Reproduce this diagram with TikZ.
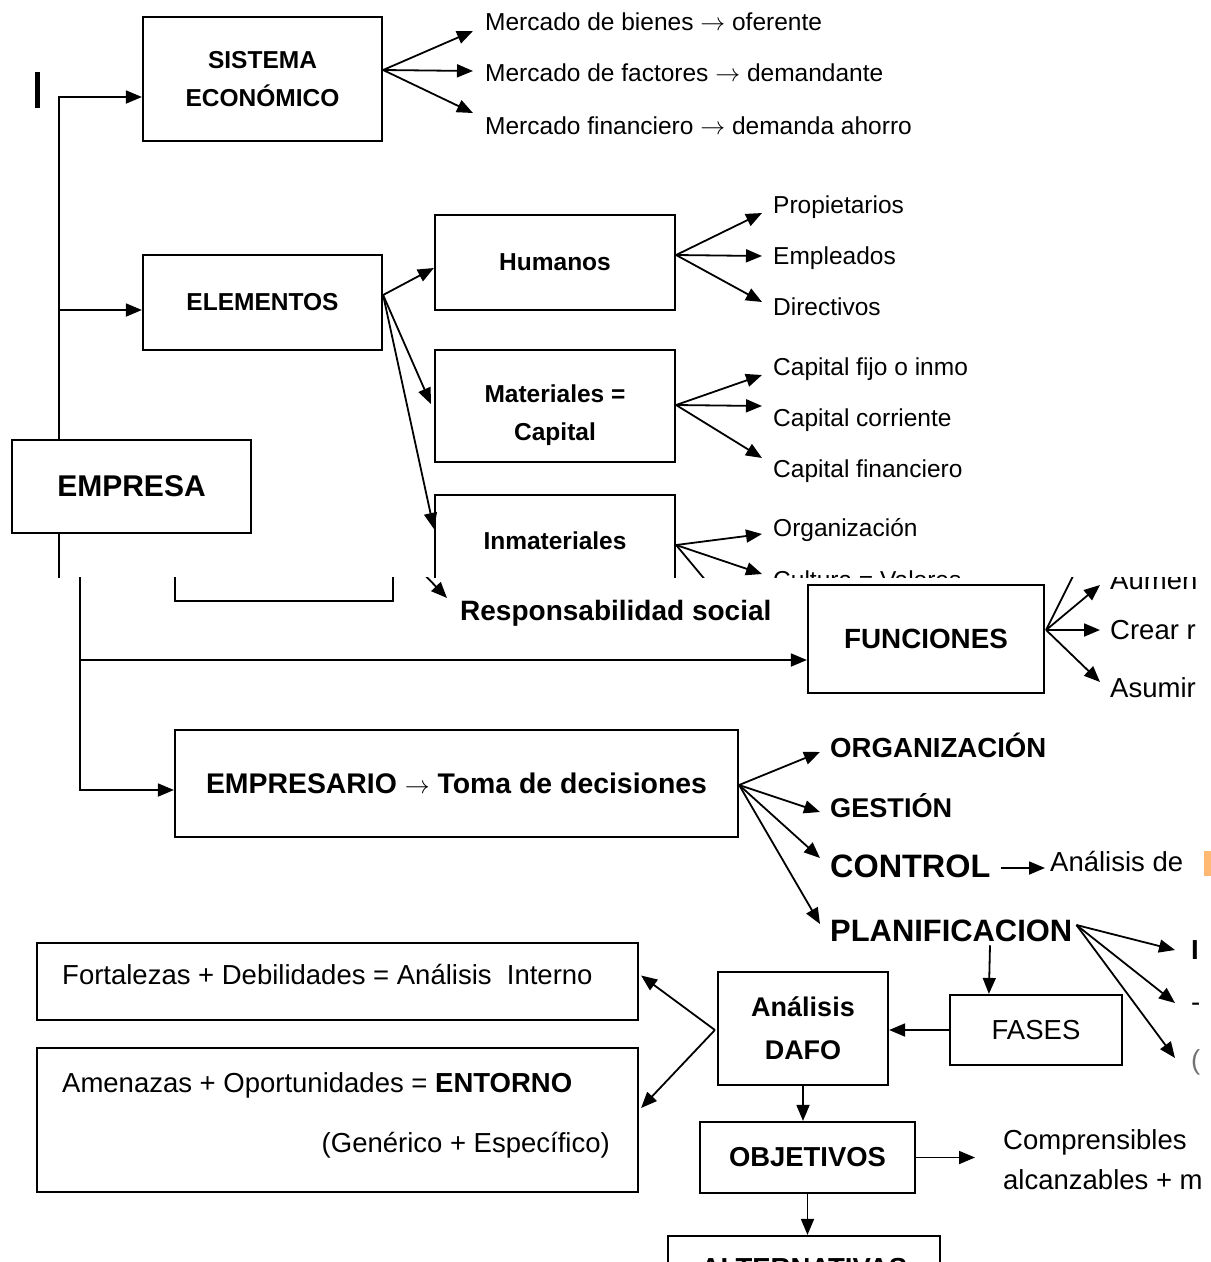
\documentclass[tikz,border=0pt]{standalone}
\usepackage{fontspec}
\setmainfont{Liberation Sans}
\usetikzlibrary{arrows.meta,calc}
\newcommand{\fsz}[2]{\fontsize{#1pt}{#2pt}\selectfont}
\newcommand{\rar}{\ensuremath{\rightarrow}}
\begin{document}
\begin{tikzpicture}[x=1pt,y=-1pt,
  box/.style={draw, line width=2.2pt, inner sep=0pt, align=center},
  lbl/.style={inner sep=0pt, anchor=west, text depth=0pt},
  sm/.style={font=\fsz{24.5}{29}, text height=17.5pt},
  md/.style={font=\fsz{27.5}{32}, text height=19.7pt},
  bf/.style={font=\fsz{24.5}{38}\bfseries},
  bm/.style={font=\fsz{27.5}{32}\bfseries},
  arr/.style={-{Triangle[length=16pt,width=13pt]}, line width=1.8pt},
  ln/.style={line width=1.8pt},
]
\useasboundingbox (0,0) rectangle (1211,1262);
\clip (0,0) rectangle (1211,1262);

% ---------------- upper piece ----------------
\draw[line width=5pt] (37,72) -- (37,108);

\node[box, minimum width=239pt, minimum height=124pt, bf] (sis) at (262.5,79) {SISTEMA\\ECONÓMICO};
\node[box, minimum width=239pt, minimum height=95pt, bf] (ele) at (262.5,302.5) {ELEMENTOS};
\node[box, minimum width=240pt, minimum height=95pt, bf] (hum) at (555,262.5) {Humanos};
\node[box, minimum width=240pt, minimum height=112pt] (mat) at (555,406) {};
\node[bf, align=center, inner sep=0pt] (matl) at (555,415) {Materiales =\\Capital};
\node[box, minimum width=239pt, minimum height=93pt, font=\fsz{30}{30}\bfseries] (emp) at (131.5,486.5) {EMPRESA};

\node[lbl, sm] (m1) at (485,22) {Mercado de bienes \rar{} oferente};
\node[lbl, sm] (m2) at (485,73) {Mercado de factores \rar{} demandante};
\node[lbl, sm] (m3) at (485,126) {Mercado financiero \rar{} demanda ahorro};

\node[lbl, sm] (p1) at (773,205) {Propietarios};
\node[lbl, sm] (p2) at (773,256) {Empleados};
\node[lbl, sm] (p3) at (773,307) {Directivos};

\node[lbl, sm] (c1) at (773,367) {Capital fijo o inmo};
\node[lbl, sm] (c2) at (773,418) {Capital corriente};
\node[lbl, sm] (c3) at (773,469) {Capital financiero};

\node[lbl, sm] (o1) at (773,528) {Organización};

\coordinate (eT) at ($(emp.north west)+(48,0)$);
\coordinate (eB) at ($(emp.south west)+(48,0)$);

\draw[arr] (eT) |- ($(sis.west)+(0,18)$);
\draw[arr] ($(ele.west)+(-83,7.5)$) -- ($(ele.west)+(0,7.5)$);

\coordinate (so) at ($(sis.east)+(0,-9)$);
\draw[arr] (so) -- ($(m1.west)+(-12,9)$);
\draw[arr] (so) -- ($(m2.west)+(-12,-2)$);
\draw[arr] (so) -- ($(m3.west)+(-12,-13)$);

\coordinate (ho) at ($(hum.east)+(0,-7.5)$);
\draw[arr] (ho) -- ($(p1.west)+(-11,8)$);
\draw[arr] (ho) -- ($(p2.west)+(-11,0)$);
\draw[arr] (ho) -- ($(p3.west)+(-11,-5)$);

\coordinate (mo) at ($(mat.east)+(0,-1)$);
\draw[arr] (mo) -- ($(c1.west)+(-11,8)$);
\draw[arr] (mo) -- ($(c2.west)+(-11,-12)$);
\draw[arr] (mo) -- ($(c3.west)+(-11,-11)$);

\begin{scope}
  \clip (0,0) rectangle (1211,577);
  \node[box, minimum width=240pt, minimum height=110pt] (inm) at (555,550) {};
  \node[bf, inner sep=0pt] (inml) at (555,541) {Inmateriales};
  \node[lbl, sm] (o2) at (773,580) {Cultura = Valores};
  \coordinate (io) at ($(inm.east)+(0,-5)$);
  \draw[arr] (io) -- ($(o1.west)+(-11,6)$);
  \draw[arr] (io) -- ($(o2.west)+(-11,-6)$);
  \draw[ln] (io) -- ++(40,48);
  \draw[ln] (eB) -- ++(0,60);
\end{scope}

\coordinate (elo) at ($(ele.east)+(0,-7.5)$);
\draw[arr] (elo) -- ($(hum.west)+(0,5.5)$);
\draw[arr] (elo) -- ($(mat.west)+(-3,-2)$);
\draw[arr] (elo) -- ($(inm.north west)+(0,35)$);

% ---------------- lower piece ----------------
\node[lbl, font=\fsz{28}{32}\bfseries, text height=20pt] (rs) at (460,610) {Responsabilidad social};
\node[box, minimum width=236pt, minimum height=108pt, font=\fsz{27.8}{32}\bfseries] (fun) at (926,639) {FUNCIONES};
\node[lbl, md] (cre) at (1110,630) {Crear r};
\node[lbl, md] (asu) at (1110,688) {Asumir};

\begin{scope}
  \clip (0,577) rectangle (1211,1262);
  \node[lbl, md] (aum) at (1110,580) {Aumen};
  \coordinate (fo) at ($(fun.east)+(1,-9)$);
  \draw[arr] (fo) -- ($(aum.west)+(-10,5)$);
  \draw[ln] (fo) -- ++(40,-80);
  \draw[arr] ($(rs.west)+(-40,-40)$) -- ($(rs.west)+(-13,-12)$);
  \draw[ln] (175,570) |- (393,601) -- (393,570);
\end{scope}
\draw[arr] (fo) -- ($(cre.west)+(-10,0)$);
\draw[arr] (fo) -- ($(asu.west)+(-10,-6)$);

\node[box, minimum width=563pt, minimum height=107pt, font=\fsz{28.4}{32}\bfseries] (epr) at (456.5,783.5) {EMPRESARIO \rar{} Toma de decisiones};

\coordinate (fb) at (80,660);
\draw[ln] (80,577) -- (fb);
\draw[arr] (fb) |- ($(epr.west)+(0,6.5)$);
\draw[arr] (fb) -- (fb -| fun.west);

\node[lbl, font=\fsz{27.6}{32}\bfseries, text height=19.8pt] (org) at (830,748) {ORGANIZACIÓN};
\node[lbl, font=\fsz{27.1}{32}\bfseries, text height=19.4pt] (ges) at (830,808) {GESTIÓN};
\node[lbl, font=\fsz{32.4}{36}\bfseries, text height=23.2pt] (con) at (830,866) {CONTROL};
\node[lbl, font=\fsz{30.9}{36}\bfseries, text height=22.1pt] (pla) at (830,930) {PLANIFICACION};
\node[lbl, md] (ana) at (1050,862) {Análisis de};
\fill[orange!55] (1204,851) rectangle (1211,876);

\coordinate (eo) at ($(epr.east)+(0,1.5)$);
\draw[arr] (eo) -- ($(org.west)+(-10,4)$);
\draw[arr] (eo) -- ($(ges.west)+(-10,4)$);
\draw[arr] (eo) -- ($(con.west)+(-10,-8)$);
\draw[arr] (eo) -- ($(pla.west)+(-10,-6)$);
\draw[arr] ($(con.east)+(10,2)$) -- ($(ana.west)+(-5,6)$);

\node[lbl, font=\fsz{27.5}{32}\bfseries, text height=19.7pt] (f1) at (1191,950) {I};
\node[lbl, md] (f2) at (1191,1002) {-};
\node[lbl, md, text=black!55] (f3) at (1191,1060) {(};
\coordinate (po) at ($(pla.east)+(4,-5)$);
\draw[arr] (po) -- ($(f1.west)+(-16,0)$);
\draw[arr] (po) -- ($(f2.west)+(-16,1)$);
\draw[arr] (po) -- ($(f3.west)+(-16,-2)$);

\node[box, minimum width=172pt, minimum height=70pt, md] (fas) at (1036,1030) {FASES};
\node[box, minimum width=170pt, minimum height=113pt, font=\fsz{27}{43}\bfseries] (dafo) at (803,1028.5) {Análisis\\DAFO};
\draw[arr] ($(pla.south west)+(160,4)$) -- ($(fas.north west)+(40,0)$);
\draw[arr] (fas.west) -- (fas.west -| dafo.east);

\node[box, minimum width=601pt, minimum height=77pt] (fort) at (337.5,981.5) {};
\node[lbl, md] (fortl) at (62,975) {Fortalezas + Debilidades = Análisis~~Interno};
\node[box, minimum width=601pt, minimum height=144pt] (amen) at (337.5,1120) {};
\node[lbl, md] (amenl) at (62,1083) {Amenazas + Oportunidades = \textbf{ENTORNO}};
\node[md, anchor=east, inner sep=0pt, text depth=0pt] (gen) at (610,1143) {(Genérico + Específico)};

\coordinate (dl) at ($(dafo.west)+(-2,1.5)$);
\draw[arr] (dl) -- ($(fort.east)+(2,-6)$);
\draw[arr] (dl) -- ($(amen.east)+(2,-12)$);

\node[box, minimum width=215pt, minimum height=71pt, font=\fsz{27.4}{32}\bfseries] (obj) at (807.5,1157.5) {OBJETIVOS};
\draw[arr] (dafo.south) -- (dafo.south |- obj.north);
\node[lbl, md] (comp) at (1003,1140) {Comprensibles};
\node[lbl, md] (alc) at (1003,1180) {alcanzables + m};
\draw[arr] (obj.east) -- ($(comp.west)+(-28,17.5)$);

\node[box, minimum width=272pt, minimum height=64pt, bm] (alt) at (804,1268) {ALTERNATIVAS};
\draw[arr] (obj.south) -- (obj.south |- alt.north);
\end{tikzpicture}
\end{document}
